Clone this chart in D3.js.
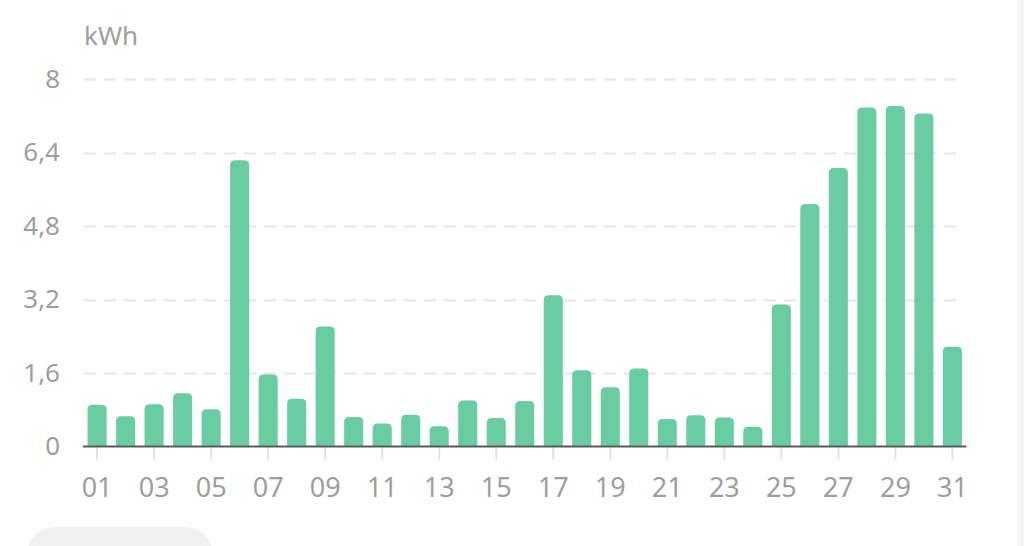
<!DOCTYPE html>
<html>
<head>
<meta charset="utf-8">
<script src="https://cdn.jsdelivr.net/npm/d3@7"></script>
<style>
  html,body{margin:0;padding:0;background:#fff;}
  svg{display:block;font-family:"Noto Sans",Roboto,sans-serif;}
</style>
</head>
<body>
<svg id="chart" width="1024" height="546"></svg>
<script>
// daily energy use, one bar per day of the month
var days=["01","02","03","04","05","06","07","08","09","10","11","12","13","14","15","16",
  "17","18","19","20","21","22","23","24","25","26","27","28","29","30","31"];
var kwh=[0.91,0.66,0.92,1.16,0.81,6.23,1.57,1.04,2.61,0.64,0.5,0.69,0.44,1.0,0.62,0.99,
  3.29,1.66,1.29,1.7,0.6,0.68,0.63,0.43,3.09,5.28,6.06,7.38,7.41,7.25,2.17];
var yTicks=[0,1.6,3.2,4.8,6.4,8];
var xLabels=days.filter(function(d,i){return i%2==0;});

var svg=d3.select("#chart");
// note: "top" is taken by window.top, so plotTop
var plotLeft=83, plotRight=966.5, plotTop=79, base=446.5;

var x=d3.scaleBand().domain(days).range([plotLeft,plotRight]).paddingInner(0.33).paddingOuter(0.16);
var y=d3.scaleLinear().domain([0,8]).range([base,plotTop]);
var fmt=function(v){return String(v).replace(".",",");};

// background bits around the chart (right panel edge, pill below)
svg.append("rect").attr("x",1017).attr("y",0).attr("width",7).attr("height",546).attr("fill","#f5f5f7");
svg.append("rect").attr("x",27).attr("y",527).attr("width",186).attr("height",60).attr("rx",28).attr("fill","#f1f1f1");

// unit label
svg.append("text").attr("x",84).attr("y",45).attr("font-size",26).attr("fill","#9e9e9e").text("kWh");

// horizontal dashed grid
svg.append("g").selectAll("line").data(yTicks.slice(1)).join("line")
  .attr("x1",84).attr("x2",958)
  .attr("y1",function(d){return Math.round(y(d))+0.5;})
  .attr("y2",function(d){return Math.round(y(d))+0.5;})
  .attr("stroke","#e4e6f2").attr("stroke-width",2).attr("stroke-dasharray","12,8");

// y axis labels
var yAxis=d3.axisLeft(y).tickValues(yTicks).tickFormat(fmt).tickSize(0).tickPadding(0);
var gy=svg.append("g").attr("transform","translate(60,0)").call(yAxis);
gy.select(".domain").remove();
gy.selectAll("text").attr("font-size",26).attr("fill","#9e9e9e").attr("font-family","Noto Sans,Roboto,sans-serif");

// x axis: ticks under odd days
var xAxis=d3.axisBottom(x).tickValues(xLabels).tickSize(13).tickPadding(18);
var gx=svg.append("g").attr("transform","translate(0,"+base+")").call(xAxis);
gx.select(".domain").remove();
gx.selectAll(".tick line").attr("stroke","#e2e2e2").attr("stroke-width",2);
gx.selectAll("text").attr("font-size",27).attr("fill","#9e9e9e").attr("font-family","Noto Sans,Roboto,sans-serif");

// bars with rounded tops
var r=5;
svg.append("g").selectAll("path").data(kwh).join("path")
  .attr("fill","#69cda1")
  .attr("d",function(v,i){
    var x0=x(days[i]), w=x.bandwidth(), y0=y(v), h=base-y0;
    var rr=Math.min(r,h);
    return "M"+x0+","+base+"V"+(y0+rr)+"Q"+x0+","+y0+" "+(x0+rr)+","+y0+
      "H"+(x0+w-rr)+"Q"+(x0+w)+","+y0+" "+(x0+w)+","+(y0+rr)+"V"+base+"Z";
  });

// baseline
svg.append("line").attr("x1",plotLeft).attr("x2",plotRight).attr("y1",base).attr("y2",base)
  .attr("stroke","#5a5a5a").attr("stroke-width",2);
</script>
</body>
</html>
